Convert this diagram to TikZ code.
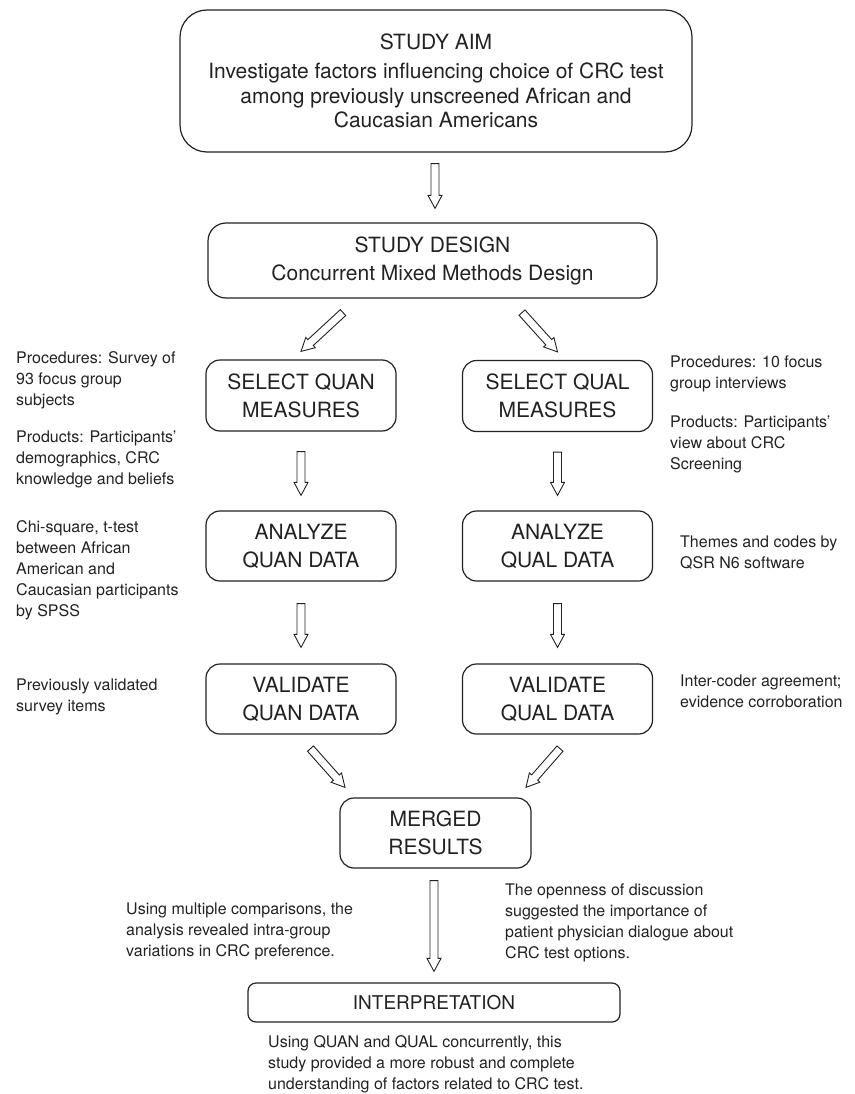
\documentclass[tikz,border=0pt]{standalone}
\usepackage{fontspec}
\setmainfont{TeX Gyre Heros}
\usetikzlibrary{calc}
\definecolor{ink}{HTML}{222222}

% hollow block arrow between two points
\newcommand\blockarrow[2]{%
  \draw[arrowline] let \p1=(#1), \p2=(#2),
      \n1={atan2(\y2-\y1,\x2-\x1)}, \n2={veclen(\x2-\x1,\y2-\y1)} in
    ($(\p1)+(\n1+90:4pt)$)
    -- ($(\p1)+(\n1:\n2-13pt)+(\n1+90:4pt)$)
    -- ($(\p1)+(\n1:\n2-13pt)+(\n1+90:7pt)$)
    -- (\p2)
    -- ($(\p1)+(\n1:\n2-13pt)+(\n1-90:7pt)$)
    -- ($(\p1)+(\n1:\n2-13pt)+(\n1-90:4pt)$)
    -- ($(\p1)+(\n1-90:4pt)$) -- cycle;}

\tikzset{
  box/.style={draw=ink, line width=1.2pt, align=center, inner sep=0pt,
    text=ink, font=\fontsize{21}{28}\selectfont},
  stagebox/.style={box, minimum width=190pt, minimum height=70pt, rounded corners=14pt},
  note/.style={anchor=north west, align=left, inner sep=0pt, text=ink,
    font=\fontsize{16}{21}\selectfont},
  arrowline/.style={draw=ink, line width=0.9pt, line join=miter, fill=white}
}

\begin{document}
\begin{tikzpicture}[x=1pt, y=-1pt]
\useasboundingbox (0,0) rectangle (854,1094);

% main flow
\node[box, minimum width=512pt, minimum height=142pt, rounded corners=27pt,
      font=\fontsize{21}{24.5}\selectfont] (aim) at (436,81)
  {STUDY AIM\\[4.5pt]Investigate factors influencing choice of CRC test\\
   among previously unscreened African and\\Caucasian Americans};
\node[box, minimum width=449pt, minimum height=75pt, rounded corners=18pt]
  (design) at (432.5,260.5) {STUDY DESIGN\\Concurrent Mixed Methods Design};

\node[stagebox, minimum height=71pt] (sq) at (301,395.5) {SELECT QUAN\\MEASURES};
\node[stagebox, minimum height=71pt] (sl) at (557.5,396) {SELECT QUAL\\MEASURES};
\node[stagebox] (aq) at (301,546) {ANALYZE\\QUAN DATA};
\node[stagebox] (al) at (557.5,546) {ANALYZE\\QUAL DATA};
\node[stagebox] (vq) at (301,699) {VALIDATE\\QUAN DATA};
\node[stagebox] (vl) at (557.5,699) {VALIDATE\\QUAL DATA};
\node[stagebox, minimum width=191pt] (merged) at (435.5,833) {MERGED\\RESULTS};
\node[box, minimum width=372pt, minimum height=39pt, rounded corners=8pt,
      font=\fontsize{19}{24}\selectfont] (interp) at (434,1002.5) {INTERPRETATION};

% connectors
\blockarrow{$(aim.south)+(-1,11)$}{$(design.north)+(2.5,-14)$}
\blockarrow{$(design.south)+(-89.5,14)$}{$(sq.north)+(0,-8)$}
\blockarrow{$(design.south)+(89.5,14)$}{$(sl.north)+(0,-8)$}
\blockarrow{$(sq.south)+(0,20)$}{$(aq.north)+(0,-15)$}
\blockarrow{$(sl.south)+(0,20)$}{$(al.north)+(0,-15)$}
\blockarrow{$(aq.south)+(0,22)$}{$(vq.north)+(0,-16)$}
\blockarrow{$(al.south)+(0,22)$}{$(vl.north)+(0,-16)$}
\blockarrow{$(vq.south)+(9.5,14)$}{$(merged.north)+(-90.5,-10)$}
\blockarrow{$(vl.south)+(2.5,14)$}{$(merged.north)+(90.5,-10)$}
\blockarrow{$(merged.south)+(-1.5,12)$}{$(interp.north)+(0,-11)$}

% side notes, quantitative strand
\node[note] (n1) at (16,351) {Procedures: Survey of\\93 focus group\\subjects};
\node[note] (n2) at (16,431) {Products: Participants'\\demographics, CRC\\knowledge and beliefs};
\node[note] (n3) at (16,520) {Chi-square, t-test\\between African\\American and\\Caucasian participants\\by SPSS};
\node[note] (n4) at (16,679) {Previously validated\\survey items};

% side notes, qualitative strand
\node[note] (n5) at (670,356) {Procedures: 10 focus\\group interviews};
\node[note] (n6) at (670,416) {Products: Participants'\\view about CRC\\Screening};
\node[note] (n7) at (680,536) {Themes and codes by\\QSR N6 software};
\node[note] (n8) at (680,675) {Inter-coder agreement;\\evidence corroboration};

% notes on the merged results and interpretation
\node[note] (n9) at (126,903) {Using multiple comparisons, the\\analysis revealed intra-group\\variations in CRC preference.};
\node[note] (n10) at (505,884) {The openness of discussion\\suggested the importance of\\patient physician dialogue about\\CRC test options.};
\node[note] (n11) at (268,1035) {Using QUAN and QUAL concurrently, this\\study provided a more robust and complete\\understanding of factors related to CRC test.};
\end{tikzpicture}
\end{document}
